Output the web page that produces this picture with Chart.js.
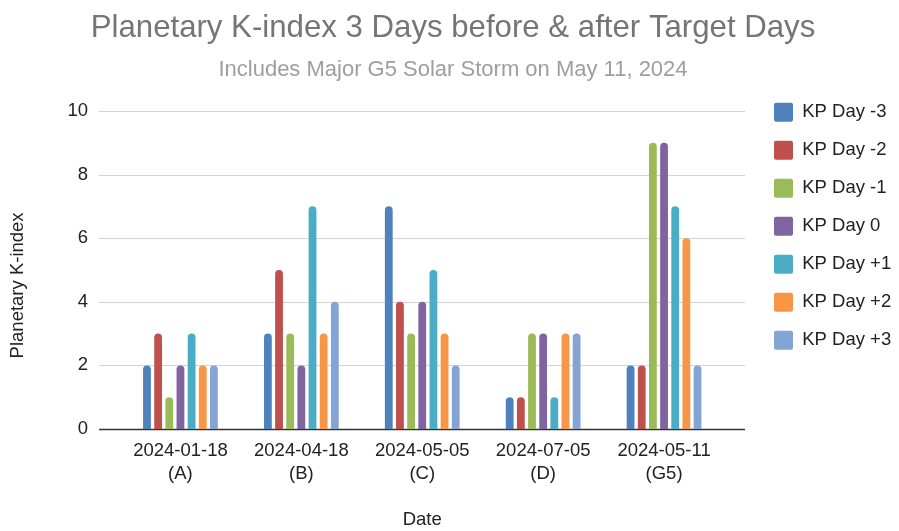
<!DOCTYPE html>
<html>
<head>
<meta charset="utf-8">
<script src="https://cdn.jsdelivr.net/npm/chart.js@4"></script>
<style>
  html, body { margin: 0; padding: 0; background: #ffffff; }
  #wrap { width: 899px; height: 531px; }
</style>
</head>
<body>
<div id="wrap"><canvas id="c" width="899" height="531"></canvas></div>
<script>
const categories = [
  ['2024-01-18', '(A)'],
  ['2024-04-18', '(B)'],
  ['2024-05-05', '(C)'],
  ['2024-07-05', '(D)'],
  ['2024-05-11', '(G5)']
];
const seriesNames = ['KP Day -3', 'KP Day -2', 'KP Day -1', 'KP Day 0', 'KP Day +1', 'KP Day +2', 'KP Day +3'];
const kpDayMinus3 = [2, 3, 7, 1, 2];
const kpDayMinus2 = [3, 5, 4, 1, 2];
const kpDayMinus1 = [1, 3, 3, 3, 9];
const kpDay0      = [2, 2, 4, 3, 9];
const kpDayPlus1  = [3, 7, 5, 1, 7];
const kpDayPlus2  = [2, 3, 3, 3, 6];
const kpDayPlus3  = [2, 4, 2, 3, 2];
const yTicks = [0, 2, 4, 6, 8, 10];

const seriesValues = [kpDayMinus3, kpDayMinus2, kpDayMinus1, kpDay0, kpDayPlus1, kpDayPlus2, kpDayPlus3];
const colors = ['#4f81bd', '#c0504d', '#9bbb59', '#8064a2', '#4bacc6', '#f79646', '#82a5d3'];

const FONT = '"Liberation Sans", Arial, sans-serif';
const AXIS_SIZE = 18.5;

const gridPlugin = {
  id: 'extendedGrid',
  beforeDatasetsDraw(chart) {
    const {ctx, chartArea, scales} = chart;
    const y = scales.y;
    const x0 = chartArea.left - 21, x1 = chartArea.right + 20.5;
    ctx.save();
    yTicks.forEach(v => {
      const py = Math.round(y.getPixelForValue(v)) + 0.5;
      ctx.beginPath();
      ctx.moveTo(x0, py);
      ctx.lineTo(x1, py);
      if (v === 0) {
        ctx.strokeStyle = '#333333';
        ctx.lineWidth = 1.5;
      } else {
        ctx.strokeStyle = '#d3d3d3';
        ctx.lineWidth = 1.2;
      }
      ctx.stroke();
    });
    ctx.restore();
  }
};

const boxShift = {
  id: 'boxShift',
  afterLayout(chart) {
    const lg = chart.legend;
    if (lg) {
      const w = lg.width, h = lg.height;
      lg.left = 755; lg.right = 755 + w;
      lg.top = 83.7; lg.bottom = 83.7 + h;
    }
    chart.boxes.forEach(b => {
      if (b.options && (b.options.text === titleText || b.options.text === subtitleText)) {
        b.left = 7; b.right = 899;
      }
    });
  }
};

const titleText = 'Planetary K-index 3 Days before & after Target Days';
const subtitleText = 'Includes Major G5 Solar Storm on May 11, 2024';

new Chart(document.getElementById('c'), {
  type: 'bar',
  data: {
    labels: categories,
    datasets: seriesNames.map((name, i) => ({
      label: name,
      data: seriesValues[i],
      backgroundColor: colors[i],
      borderWidth: 0,
      borderRadius: {topLeft: 4, topRight: 4, bottomLeft: 0, bottomRight: 0},
      borderSkipped: 'start',
      categoryPercentage: 0.646,
      barPercentage: 0.70
    }))
  },
  options: {
    responsive: false,
    animation: false,
    devicePixelRatio: 1,
    layout: { padding: { left: 0, right: 38.5, top: 0, bottom: 0 } },
    plugins: {
      title: {
        display: true,
        text: titleText,
        color: '#757575',
        font: { family: FONT, size: 31.2, weight: 'normal', lineHeight: 1.2 },
        padding: { top: 10, bottom: 0 }
      },
      subtitle: {
        display: true,
        text: subtitleText,
        color: '#9e9e9e',
        font: { family: FONT, size: 22, weight: 'normal', lineHeight: 1.2 },
        padding: { top: 9.3, bottom: 27.8 }
      },
      legend: {
        display: true,
        position: 'right',
        align: 'start',
        fullSize: false,
        maxWidth: 136,
        labels: {
          color: '#222222',
          font: { family: FONT, size: AXIS_SIZE },
          boxWidth: 19,
          boxHeight: 19,
          padding: 19,
          useBorderRadius: true,
          borderRadius: 2
        }
      },
      tooltip: { enabled: false }
    },
    scales: {
      x: {
        offset: true,
        grid: { display: false, drawTicks: false },
        border: { display: false },
        ticks: {
          color: '#222222',
          font: { family: FONT, size: AXIS_SIZE, lineHeight: 1.25 },
          padding: 10,
          maxRotation: 0,
          autoSkip: false
        },
        title: {
          display: true,
          text: 'Date',
          color: '#222222',
          font: { family: FONT, size: AXIS_SIZE, lineHeight: 1.2 },
          padding: { top: 20, bottom: 0 }
        },
        afterFit(scale) { scale.height = 102; }
      },
      y: {
        min: 0,
        max: 10,
        grid: { display: false, drawTicks: false },
        border: { display: false },
        ticks: {
          stepSize: 2,
          color: '#222222',
          font: { family: FONT, size: AXIS_SIZE },
          padding: 32
        },
        title: {
          display: true,
          text: 'Planetary K-index      ',
          color: '#222222',
          font: { family: FONT, size: AXIS_SIZE, lineHeight: 1.2 },
          padding: { top: 7, bottom: 10 }
        },
        afterFit(scale) { scale.width = 120; }
      }
    }
  },
  plugins: [gridPlugin, boxShift]
});
</script>
</body>
</html>
